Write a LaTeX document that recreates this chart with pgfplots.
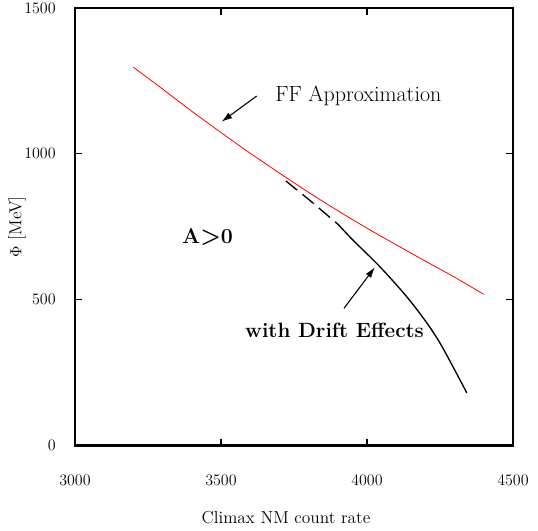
\documentclass[border=0pt]{standalone}
\usepackage{pgfplots}
\pgfplotsset{compat=1.18}
\usepackage{amsmath}
\usetikzlibrary{arrows.meta}

\begin{document}
\begin{tikzpicture}
\begin{axis}[
    width=328.5pt, height=328.1pt,
    scale only axis,
    xmin=3000, xmax=4500,
    ymin=0, ymax=1500,
    xtick={3000,3500,...,4500},
    ytick={0,500,1000,1500},
    tick align=inside,
    major tick length=5pt,
    axis line style={line width=1.6pt},
    tick style={line width=1pt, black},
    ticklabel style={font=\fontsize{13}{15}\selectfont},
    xticklabel style={yshift=-19pt},
    yticklabel style={xshift=-11pt},
    scaled ticks=false,
    /pgf/number format/1000 sep={},
    xlabel={Climax NM count rate},
    ylabel={$\Phi$ [MeV]},
    label style={font=\fontsize{13}{15}\selectfont},
    xlabel style={at={(axis description cs:0.5,0)}, anchor=center, yshift=-54pt, xshift=-6pt},
    ylabel style={at={(axis description cs:0,0.5)}, anchor=center, yshift=43.5pt},
    clip=false,
]
% force-field approximation
\addplot[red, line width=0.6pt, smooth] coordinates {
    (3200,1297) (3300,1222) (3400,1146) (3500,1073) (3600,1002)
    (3700,934) (3800,868) (3900,805) (4000,745) (4100,688)
    (4200,632) (4300,577) (4400,518)
};
% drift effects, dashed part
\addplot[black, line width=1pt, dash pattern=on 11pt off 5pt] coordinates {
    (3722,907) (3812,834) (3901,758)
};
% drift effects, solid part
\addplot[black, line width=1pt, smooth] coordinates {
    (3901,758) (3952,704) (4045,612) (4137,509) (4205,420)
    (4250,351) (4295,269) (4342,180)
};
\draw[-{Latex[length=8pt,width=5pt]}, line width=0.8pt] (axis cs:3622,1198) -- (axis cs:3502,1110);
\draw[-{Latex[length=8pt,width=5pt]}, line width=0.8pt] (axis cs:3921,470) -- (axis cs:4027,611);
\node[anchor=west, inner sep=0pt, font=\fontsize{16.5}{18}\selectfont] at (axis cs:3685,1198) {FF Approximation};
\node[anchor=west, inner sep=0pt, font=\fontsize{16}{18}\selectfont\bfseries] at (axis cs:3366,715) {A$\boldsymbol{>}$0};
\node[anchor=west, inner sep=0pt, font=\fontsize{15.5}{17}\selectfont\bfseries] at (axis cs:3582,396) {with Drift Effects};
\end{axis}
\pgfresetboundingbox
\path (-56.25pt,-64.1pt) rectangle (347.25pt,334.1pt);
\end{tikzpicture}
\end{document}
